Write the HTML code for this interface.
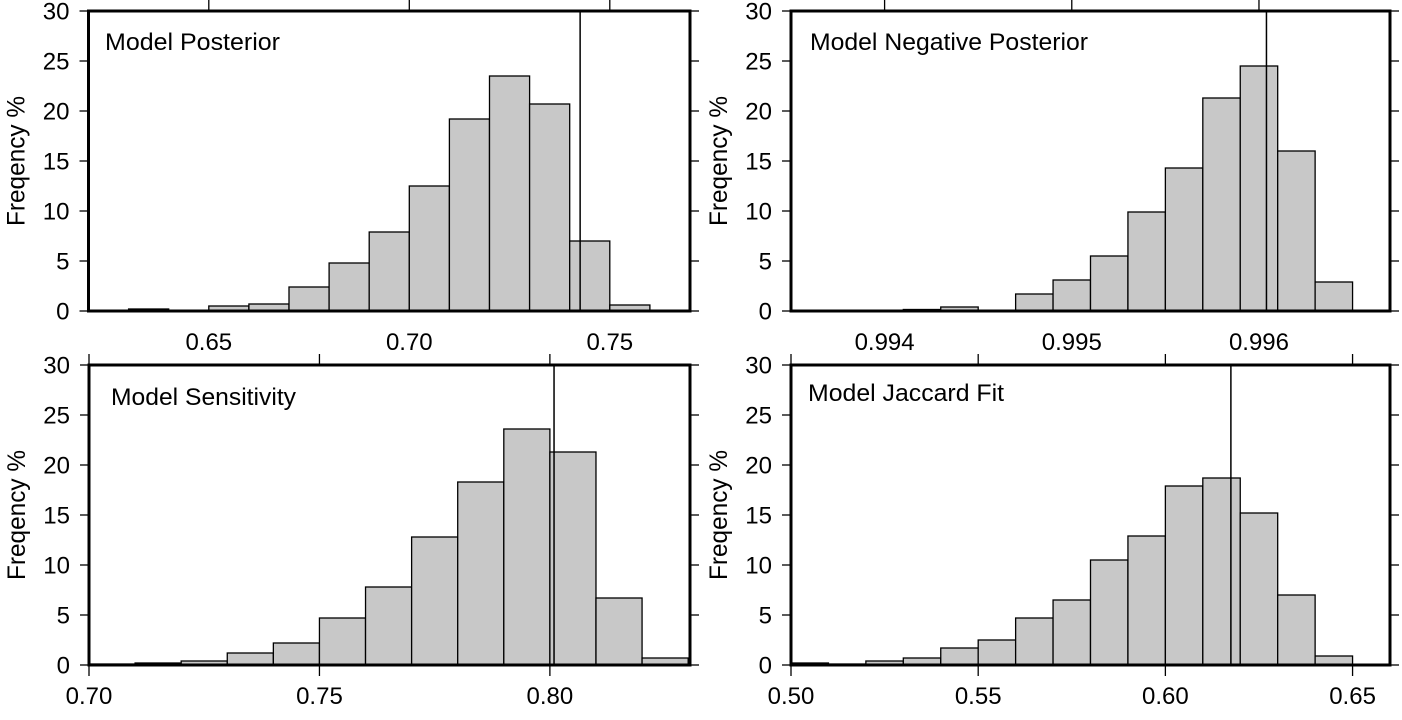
<!DOCTYPE html>
<html><head><meta charset="utf-8"><style>
html,body{margin:0;padding:0;background:#fff;}
svg{display:block;font-family:"Liberation Sans",sans-serif;}
</style></head><body>
<svg id="chart" width="1402" height="720" viewBox="0 0 1402 720" xmlns="http://www.w3.org/2000/svg"></svg>
<script>
// Panel 1: Model Posterior
const p1BinStarts = [0.63,0.64,0.65,0.66,0.67,0.68,0.69,0.70,0.71,0.72,0.73,0.74,0.75];
const p1Values    = [0.2,0.0,0.5,0.7,2.4,4.8,7.9,12.5,19.2,23.5,20.7,7.0,0.6];
const p1Ticks     = ["0.65","0.70","0.75"];
const p1Line      = 0.7426;
// Panel 2: Model Negative Posterior
const p2BinStarts = [0.9941,0.9943,0.9945,0.9947,0.9949,0.9951,0.9953,0.9955,0.9957,0.9959,0.9961,0.9963];
const p2Values    = [0.15,0.4,0.0,1.7,3.1,5.5,9.9,14.3,21.3,24.5,16.0,2.9];
const p2Ticks     = ["0.994","0.995","0.996"];
const p2Line      = 0.99604;
// Panel 3: Model Sensitivity
const p3BinStarts = [0.70,0.71,0.72,0.73,0.74,0.75,0.76,0.77,0.78,0.79,0.80,0.81,0.82];
const p3Values    = [0.1,0.2,0.4,1.2,2.2,4.7,7.8,12.8,18.3,23.6,21.3,6.7,0.7];
const p3Ticks     = ["0.70","0.75","0.80"];
const p3Line      = 0.8009;
// Panel 4: Model Jaccard Fit
const p4BinStarts = [0.50,0.51,0.52,0.53,0.54,0.55,0.56,0.57,0.58,0.59,0.60,0.61,0.62,0.63,0.64];
const p4Values    = [0.2,0.1,0.4,0.7,1.7,2.5,4.7,6.5,10.5,12.9,17.9,18.7,15.2,7.0,0.9];
const p4Ticks     = ["0.50","0.55","0.60","0.65"];
const p4Line      = 0.6175;
const yTicks = [0,5,10,15,20,25,30];

const NS="http://www.w3.org/2000/svg";
const svg=document.getElementById('chart');
function mk(tag,attrs,parent){const e=document.createElementNS(NS,tag);for(const k in attrs)e.setAttribute(k,attrs[k]);(parent||svg).appendChild(e);return e;}

const panels=[
 {title:"Model Posterior",tl:175,starts:p1BinStarts,vals:p1Values,ticks:p1Ticks,line:p1Line,bw:0.01,x0:88.5,x1:690,y0:311,y1:11,d0:0.62,d1:0.77,topPanel:true,tx:105,ty:50},
 {title:"Model Negative Posterior",tl:278,starts:p2BinStarts,vals:p2Values,ticks:p2Ticks,line:p2Line,bw:0.0002,x0:791,x1:1390,y0:311,y1:11,d0:0.9935,d1:0.9967,topPanel:true,tx:810,ty:50},
 {title:"Model Sensitivity",tl:185,starts:p3BinStarts,vals:p3Values,ticks:p3Ticks,line:p3Line,bw:0.01,x0:89,x1:690,y0:665,y1:365,d0:0.70,d1:0.8304,topPanel:false,tx:111,ty:405},
 {title:"Model Jaccard Fit",tl:196,starts:p4BinStarts,vals:p4Values,ticks:p4Ticks,line:p4Line,bw:0.01,x0:791,x1:1390,y0:665,y1:365,d0:0.50,d1:0.66,topPanel:false,tx:808,ty:401}
];

panels.forEach((p,pi)=>{
  const g=mk('g',{});
  
  
  const xs=v=>p.x0+(v-p.d0)/(p.d1-p.d0)*(p.x1-p.x0);
  const ys=v=>p.y0+(v-0)/(30-0)*(p.y1-p.y0);
  p.starts.forEach((s,i)=>{
    const v=p.vals[i];
    const xa=xs(s), xb=Math.min(xs(s+p.bw),p.x1);
    const yt=ys(v);
    const r=mk('rect',{x:xa,y:yt,width:xb-xa,height:Math.max(p.y0-yt,0),fill:'#c8c8c8',stroke:'#000','stroke-width':1.3},g);
    
    
  });
  const ln=mk('line',{x1:xs(p.line),x2:xs(p.line),y1:p.y1,y2:p.y0,stroke:'#000','stroke-width':1.5},g);
  
  
  const fr=mk('rect',{x:p.x0,y:p.y1,width:p.x1-p.x0,height:p.y0-p.y1,fill:'none',stroke:'#000','stroke-width':3},g);
  
  
  yTicks.forEach(t=>{
    const y=ys(t);
    mk('line',{x1:p.x0-9,x2:p.x0,y1:y,y2:y,stroke:'#000','stroke-width':1.3},g);
    mk('line',{x1:p.x1,x2:p.x1+9,y1:y,y2:y,stroke:'#000','stroke-width':1.3},g);
    const tl=mk('text',{x:p.x0-19,y:y+8.5,'text-anchor':'end','font-size':24},g);
    tl.textContent=t;
    
    
  });
  p.ticks.forEach(t=>{
    const x=xs(parseFloat(t));
    mk('line',{x1:x,x2:x,y1:p.y1-11,y2:p.y1,stroke:'#000','stroke-width':1.3},g);
    if(!p.topPanel) mk('line',{x1:x,x2:x,y1:p.y0,y2:p.y0+11,stroke:'#000','stroke-width':1.3},g);
    const tl=mk('text',{x:x,y:p.y0+39,'text-anchor':'middle','font-size':24},g);
    tl.textContent=t;
    
    
  });
  const yc=(p.y0+p.y1)/2, xt=p.x0-64;
  const yt=mk('text',{x:xt,y:yc,'text-anchor':'middle','font-size':25,textLength:130,lengthAdjust:'spacingAndGlyphs',transform:`rotate(-90 ${xt} ${yc})`},g);
  yt.textContent='Freqency %';
  
  
  const tt=mk('text',{x:p.tx,y:p.ty,'font-size':24,textLength:p.tl,lengthAdjust:'spacingAndGlyphs'},g);
  tt.textContent=p.title;
  
  
});
</script>
</body></html>
